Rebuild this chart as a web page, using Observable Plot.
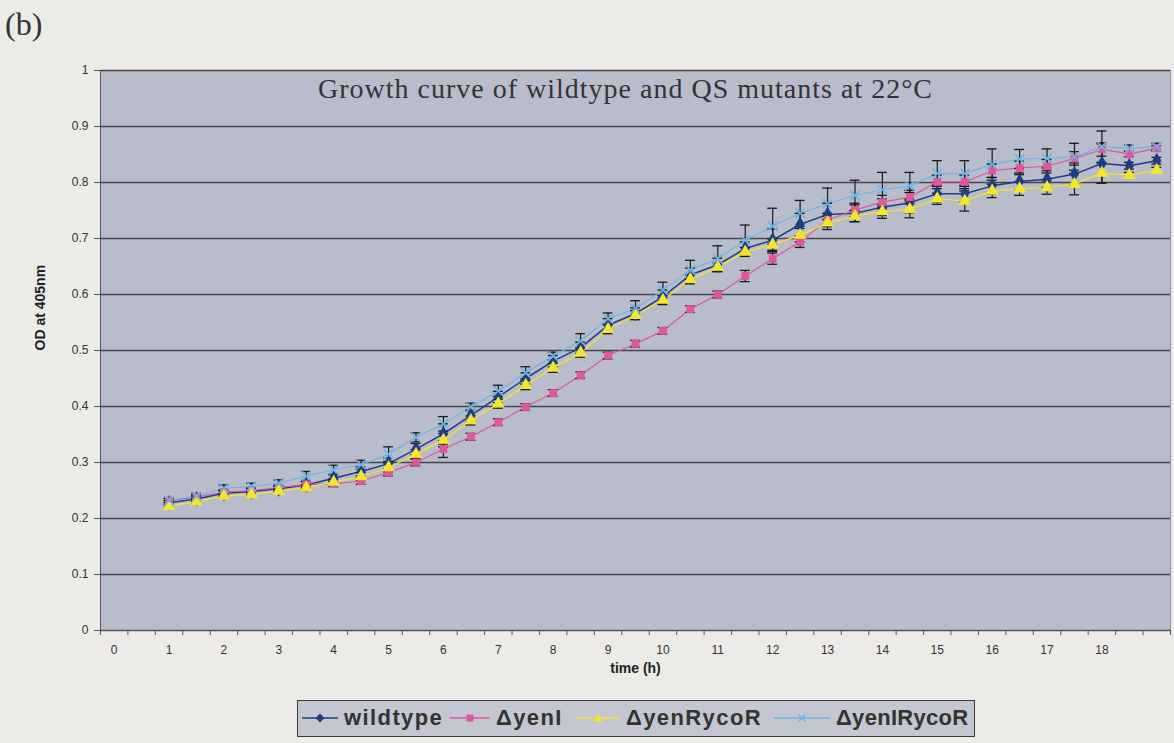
<!DOCTYPE html>
<html>
<head>
<meta charset="utf-8">
<script src="https://cdn.jsdelivr.net/npm/d3@7"></script>
<script src="https://cdn.jsdelivr.net/npm/@observablehq/plot@0.6"></script>
<style>
  html, body { margin: 0; padding: 0; background: #ecebe8; }
  #wrap { position: relative; width: 1174px; height: 743px; overflow: hidden; }
  #panel { position: absolute; left: 5px; top: 6px; font: 32px "Liberation Serif", "Times New Roman", serif; color: #333; }
  #chart { position: absolute; left: 0; top: 0; }
  #legend { position: absolute; left: 297px; top: 700px; width: 678px; height: 37px; box-sizing: border-box;
    border: 1.5px solid #3a3a3a; background: #c4c6d1;
    font: bold 22px "Liberation Sans", Arial, sans-serif; color: #333; }
  .item { position: absolute; top: 0; height: 34px; display: flex; align-items: center; white-space: nowrap; }
  .item svg { margin-right: 6px; }
</style>
</head>
<body>
<div id="wrap">
  <div id="chart"></div>
  <div id="panel">(b)</div>
  <div id="legend"></div>
</div>
<script>
// ---- data ----
const times = [1, 1.5, 2, 2.5, 3, 3.5, 4, 4.5, 5, 5.5,
  6, 6.5, 7, 7.5, 8, 8.5, 9, 9.5, 10, 10.5,
  11, 11.5, 12, 12.5, 13, 13.5, 14, 14.5, 15, 15.5,
  16, 16.5, 17, 17.5, 18, 18.5, 19];

const seriesNames = ["wildtype", "ΔyenI", "ΔyenRycoR", "ΔyenIRycoR"];

const wildtype = [.228, .235, .245, .248, .253, .260, .272, .284, .298, .324,
  .351, .384, .417, .450, .481, .505, .545, .566, .596, .635,
  .653, .682, .697, .725, .743, .745, .756, .764, .780, .780,
  .794, .802, .806, .815, .834, .830, .839];
const yenI = [.232, .238, .247, .250, .255, .261, .262, .267, .282, .300,
  .324, .346, .372, .399, .424, .456, .491, .512, .535, .574,
  .600, .633, .664, .694, .733, .751, .765, .774, .801, .801,
  .821, .826, .829, .843, .859, .851, .861];
const yenRycoR = [.222, .230, .240, .243, .249, .255, .265, .275, .291, .315,
  .340, .375, .405, .438, .469, .496, .538, .563, .590, .627,
  .649, .676, .689, .706, .728, .740, .748, .752, .771, .767,
  .785, .789, .791, .797, .817, .813, .822];
const yenIRycoR = [.232, .240, .254, .257, .263, .276, .287, .296, .315, .345,
  .369, .399, .428, .460, .490, .517, .557, .575, .608, .644,
  .664, .697, .722, .745, .762, .777, .787, .794, .816, .816,
  .832, .842, .843, .846, .864, .861, .864];

// error bar half-widths
const errWildtype = [.004, .004, .005, .006, .005, .006, .006, .008, .010, .010,
  .018, .010, .010, .010, .010, .010, .012, .010, .012, .012,
  .012, .012, .020, .020, .020, .015, .015, .018, .015, .015,
  .015, .015, .015, .020, .035, .006, .006];
const errYenI = [.003, .003, .004, .004, .004, .005, .005, .006, .006, .006,
  .015, .006, .006, .006, .006, .006, .006, .006, .006, .006,
  .006, .010, .010, .010, .012, .012, .012, .012, .012, .012,
  .012, .012, .012, .012, .012, .005, .005];
const errYenRycoR = [.003, .003, .004, .004, .004, .005, .005, .007, .008, .008,
  .012, .008, .008, .008, .008, .008, .008, .008, .008, .008,
  .008, .008, .010, .012, .012, .010, .012, .015, .010, .018,
  .012, .012, .012, .019, .018, .005, .005];
const errYenIRycoR = [.004, .004, .006, .006, .006, .008, .008, .008, .013, .008,
  .013, .007, .010, .011, .007, .013, .010, .014, .014, .017,
  .023, .027, .032, .023, .028, .027, .031, .024, .023, .023,
  .028, .017, .017, .024, .028, .006, .006];

const xTickLabels = [0, 1, 2, 3, 4, 5, 6, 7, 8, 9, 10, 11, 12, 13, 14, 15, 16, 17, 18];
const yTicks = [0, 0.1, 0.2, 0.3, 0.4, 0.5, 0.6, 0.7, 0.8, 0.9, 1];

// ---- build table ----
const valuesBySeries = [wildtype, yenI, yenRycoR, yenIRycoR];
const errBySeries = [errWildtype, errYenI, errYenRycoR, errYenIRycoR];
const rows = [];
seriesNames.forEach((name, s) => {
  times.forEach((t, i) => rows.push({series: name, t, od: valuesBySeries[s][i], err: errBySeries[s][i]}));
});

const styles = {
  "wildtype":   {color: "#1c3d86", symbol: "diamond", r: 4.8, sw: 1.5, hollow: false},
  "ΔyenI":      {color: "#e0559c", symbol: "square", r: 4.4, sw: 1.2, hollow: false},
  "ΔyenRycoR":  {color: "#f4e62c", symbol: "triangle", r: 4.8, sw: 1.2, hollow: false},
  "ΔyenIRycoR": {color: "#6cb6e6", symbol: "times", r: 4.4, sw: 1.2, hollow: true}
};

// category boundaries for x tick marks (half-hour categories)
const boundaries = [];
for (let k = 0; k <= 39; k++) boundaries.push(-0.25 + k * 0.5);

const marks = [
  Plot.frame({fill: "#b9bccb", stroke: "#8f92a0"}),
  Plot.ruleY(yTicks.slice(1), {stroke: "#46464a", strokeWidth: 1.4}),
  Plot.ruleX([-0.25], {stroke: "#555"}),
  Plot.ruleY([0], {stroke: "#555", strokeWidth: 1.3}),
  Plot.axisY({ticks: yTicks, tickSize: 6, tickPadding: 6, tickFormat: d => String(+d.toFixed(1)),
    label: null, fontSize: 12, stroke: "#555"}),
  Plot.axisX({ticks: boundaries, tickSize: 5, tickFormat: () => "", label: null, stroke: "#555"}),
  Plot.axisX({ticks: xTickLabels, tickSize: 0, tickPadding: 15, tickFormat: d => String(d), label: null, fontSize: 12}),
  Plot.text(["Growth curve of wildtype and QS mutants at 22°C"], {frameAnchor: "top", dy: 8, dx: -10,
    fontFamily: "Liberation Serif, Times New Roman, serif", fontSize: 28, fill: "#333"}),
  Plot.text(["OD at 405nm"], {frameAnchor: "left", dx: -60, rotate: -90, fontWeight: "bold", fontSize: 14, fill: "#222"}),
  Plot.text(["time (h)"], {frameAnchor: "bottom", dy: 42, fontWeight: "bold", fontSize: 14, fill: "#222"})
];

for (const name of seriesNames) {
  const st = styles[name];
  const data = rows.filter(d => d.series === name);
  marks.push(Plot.line(data, {x: "t", y: "od", stroke: st.color, strokeWidth: st.sw}));
}
for (const name of seriesNames) {
  const data = rows.filter(d => d.series === name);
  marks.push(Plot.ruleX(data, {x: "t", y1: d => d.od - d.err, y2: d => d.od + d.err, stroke: "#1a1a1a", strokeWidth: 1.2}));
  marks.push(Plot.ruleY(data, {y: d => d.od + d.err, x1: d => d.t - 0.09, x2: d => d.t + 0.09, stroke: "#1a1a1a", strokeWidth: 1.3}));
  marks.push(Plot.ruleY(data, {y: d => d.od - d.err, x1: d => d.t - 0.09, x2: d => d.t + 0.09, stroke: "#1a1a1a", strokeWidth: 1.3}));
}
for (const name of seriesNames) {
  const st = styles[name];
  const data = rows.filter(d => d.series === name);
  marks.push(Plot.dot(data, st.hollow
    ? {x: "t", y: "od", symbol: st.symbol, r: st.r, stroke: st.color, strokeWidth: 1.6}
    : {x: "t", y: "od", symbol: st.symbol, r: st.r, fill: st.color, stroke: "none"}));
}

const chart = Plot.plot({
  width: 1174,
  height: 690,
  marginLeft: 100,
  marginRight: 4,
  marginTop: 70,
  marginBottom: 60,
  style: {background: "transparent", fontFamily: "Liberation Sans, Arial, sans-serif", color: "#333"},
  x: {domain: [-0.25, 19.25]},
  y: {domain: [0, 1]},
  marks
});
// slightly widen title spacing to match the scanned original
d3.select(chart).selectAll("text").filter(function() { return this.textContent.startsWith("Growth curve"); })
  .attr("letter-spacing", "1px");
document.getElementById("chart").appendChild(chart);

// ---- legend ----
const legend = document.getElementById("legend");
const symbolPaths = {
  diamond: c => `M${c},1.5 L${c + 4.5},6 L${c},10.5 L${c - 4.5},6 Z`,
  square: c => `M${c - 3.5},2.5 H${c + 3.5} V9.5 H${c - 3.5} Z`,
  triangle: c => `M${c},1.5 L${c + 4.5},9.5 L${c - 4.5},9.5 Z`,
  times: c => `M${c - 3.5},2.5 L${c + 3.5},9.5 M${c + 3.5},2.5 L${c - 3.5},9.5`
};
const legendLeft = [4, 152, 278, 476];
const legendLineW = [36, 40, 44, 56];
const legendSpacing = ["1.4px", "1.4px", "1.4px", "0.3px"];
seriesNames.forEach((name, i) => {
  const st = styles[name];
  const item = document.createElement("div");
  item.className = "item";
  item.style.left = legendLeft[i] + "px";
  item.style.letterSpacing = legendSpacing[i];
  const w = legendLineW[i];
  const p = symbolPaths[st.symbol](w / 2);
  const mk = st.hollow
    ? `<path d="${p}" stroke="${st.color}" stroke-width="1.6" fill="none"/>`
    : `<path d="${p}" fill="${st.color}"/>`;
  item.innerHTML = `<svg width="${w}" height="12"><line x1="0" x2="${w}" y1="6" y2="6" stroke="${st.color}" stroke-width="1.6"/>${mk}</svg><span>${name}</span>`;
  legend.appendChild(item);
});
</script>
</body>
</html>
